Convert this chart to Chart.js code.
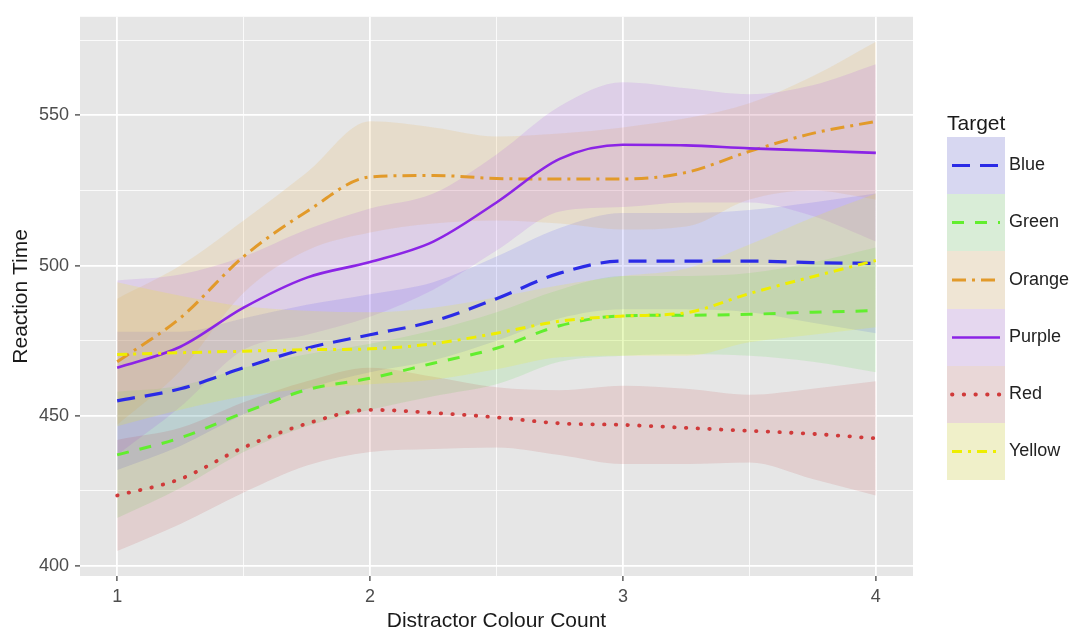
<!DOCTYPE html>
<html>
<head>
<meta charset="utf-8">
<script src="https://cdn.jsdelivr.net/npm/chart.js@4.4.1/dist/chart.umd.min.js"></script>
<style>
  html, body { margin: 0; padding: 0; background: #fff; }
  #wrap { width: 1072px; height: 634px; }
</style>
</head>
<body>
<div id="wrap"><canvas id="chart" width="1072" height="634"></canvas></div>
<script>
const xValues = [1, 1.25, 1.5, 1.75, 2, 2.25, 2.5, 2.75, 3, 3.25, 3.5, 3.75, 4];
const targets = ['Blue', 'Green', 'Orange', 'Purple', 'Red', 'Yellow'];

const blueFit   = [455, 459, 466, 472.5, 477, 481.5, 489, 497.5, 501.5, 501.5, 501.5, 501, 500.7];
const blueUpper = [478, 478, 482.5, 487, 490.5, 494.5, 503, 512.5, 517.5, 517.5, 518.5, 521, 524];
const blueLower = [432, 440, 450.5, 459, 464.5, 468.5, 475, 482.5, 485.5, 485.5, 484.5, 481, 477.5];

const greenFit   = [437, 442.7, 451, 458.7, 462.5, 467.5, 472.5, 480, 483.3, 483.5, 483.8, 484.5, 485];
const greenUpper = [458, 460, 466, 470.5, 474, 478.5, 484.5, 492, 496.5, 496.5, 497.5, 501, 506];
const greenLower = [416, 426, 438, 446.5, 452, 456.5, 460.5, 468, 470, 470.5, 470, 468, 464.5];

const orangeFit   = [468, 482.6, 503, 518, 529.5, 530, 529, 528.8, 528.8, 531, 538, 544, 548];
const orangeUpper = [489, 500, 515, 531, 548, 546, 543, 544, 546, 549, 554, 563, 574.5];
const orangeLower = [447, 465, 491, 505, 511, 514, 515, 514, 512, 513, 522, 525, 522];

const purpleFit   = [466, 473, 486, 496, 501.2, 508, 521, 535.5, 540.2, 540, 539, 538.3, 537.5];
const purpleUpper = [495, 497, 503, 512, 519, 524, 537, 553, 561, 559, 557, 560, 567];
const purpleLower = [437, 453, 472, 477, 483, 492, 505, 518, 519.5, 521, 521, 516.5, 508];

const redFit   = [423.5, 429, 439.5, 447.4, 452, 451, 449.5, 447.5, 447, 446, 445, 444, 442.5];
const redUpper = [442, 446, 454.5, 461.5, 466, 463, 459.5, 458.5, 460, 459, 457, 459, 461.5];
const redLower = [405, 414, 424.5, 433.5, 438, 439, 439.5, 437, 434, 434, 434.5, 429, 423.5];

const yellowFit   = [470.4, 471, 471.5, 472, 472.3, 474, 477.5, 481.5, 483.2, 484.3, 490.7, 496.3, 501.7];
const yellowUpper = [494.5, 490, 486.5, 485, 484.5, 486, 489.5, 493.5, 496.5, 499, 507, 516, 524];
const yellowLower = [446.5, 452, 456.5, 459, 460.5, 462, 465.5, 469.5, 470, 470, 474.5, 477, 479.5];

const xMajorTicks = [1, 2, 3, 4];
const xMinorTicks = [1.5, 2.5, 3.5];
const yMajorTicks = [400, 450, 500, 550];
const yMinorTicks = [425, 475, 525, 575];

const seriesData = {
  Blue:   { fit: blueFit,   upper: blueUpper,   lower: blueLower },
  Green:  { fit: greenFit,  upper: greenUpper,  lower: greenLower },
  Orange: { fit: orangeFit, upper: orangeUpper, lower: orangeLower },
  Purple: { fit: purpleFit, upper: purpleUpper, lower: purpleLower },
  Red:    { fit: redFit,    upper: redUpper,    lower: redLower },
  Yellow: { fit: yellowFit, upper: yellowUpper, lower: yellowLower }
};

// look of each group (line + ribbon)
const styles = {
  Blue:   { line: '#2B2BE6', band: 'rgba(40,40,255,0.12)',   dash: [18, 10],       width: 3.2, cap: 'butt' },
  Green:  { line: '#62EE2E', band: 'rgba(40,220,20,0.11)',   dash: [12, 11],       width: 3,   cap: 'butt' },
  Orange: { line: '#E29A2A', band: 'rgba(235,160,40,0.14)',  dash: [14, 6, 3, 6],  width: 3,   cap: 'butt' },
  Purple: { line: '#8B24E6', band: 'rgba(160,40,240,0.12)',  dash: [],             width: 2.6, cap: 'butt' },
  Red:    { line: '#D03A3A', band: 'rgba(190,40,40,0.12)',   dash: [0.5, 11.2],    width: 3.8, cap: 'round' },
  Yellow: { line: '#EEEE00', band: 'rgba(240,240,0,0.16)',   dash: [10, 6, 3, 6],  width: 3,   cap: 'butt' }
};

const FONT = '"Liberation Sans", Arial, sans-serif';
Chart.defaults.font.family = FONT;

const toPoints = arr => arr.map((y, i) => ({ x: xValues[i], y: y }));

const datasets = [];
targets.forEach((name, i) => {
  const st = styles[name];
  datasets.push({
    label: name,
    data: toPoints(seriesData[name].fit),
    borderColor: st.line,
    borderWidth: st.width,
    borderDash: st.dash,
    borderCapStyle: st.cap,
    pointRadius: 0,
    fill: false,
    order: 5 - i
  });
});
targets.forEach((name, i) => {
  const st = styles[name];
  datasets.push({
    label: name + ' upper',
    data: toPoints(seriesData[name].upper),
    borderColor: 'rgba(0,0,0,0)',
    borderWidth: 0,
    pointRadius: 0,
    backgroundColor: st.band,
    fill: '+1',
    order: 20 + (5 - i)
  });
  datasets.push({
    label: name + ' lower',
    data: toPoints(seriesData[name].lower),
    borderColor: 'rgba(0,0,0,0)',
    borderWidth: 0,
    pointRadius: 0,
    fill: false,
    order: 20 + (5 - i)
  });
});

const isMajor = (v, majors) => majors.indexOf(v) !== -1;

// grey panel behind the grid
const panelPlugin = {
  id: 'panel',
  beforeDraw(chart) {
    const { ctx, chartArea: a } = chart;
    ctx.save();
    ctx.fillStyle = '#fff';
    ctx.fillRect(0, 0, chart.width, chart.height);
    ctx.fillStyle = '#E6E6E6';
    ctx.fillRect(a.left, a.top, a.right - a.left, a.bottom - a.top);
    ctx.restore();
  }
};

// ggplot style legend with ribbon keys
const legendPlugin = {
  id: 'ggLegend',
  afterDraw(chart) {
    const ctx = chart.ctx;
    const keyX = 947, keyW = 58, keyTop = 137, keyH = 57.2;
    ctx.save();
    ctx.font = '21px ' + FONT;
    ctx.fillStyle = '#1a1a1a';
    ctx.textBaseline = 'alphabetic';
    ctx.textAlign = 'left';
    ctx.fillText('Target', keyX, 130);
    targets.forEach((name, i) => {
      const st = styles[name];
      const top = Math.round(keyTop + i * keyH);
      const bottom = Math.round(keyTop + (i + 1) * keyH);
      const mid = (top + bottom) / 2;
      ctx.fillStyle = '#F0F0F0';
      ctx.fillRect(keyX, top, keyW, bottom - top);
      ctx.fillStyle = st.band;
      ctx.fillRect(keyX, top, keyW, bottom - top);
      ctx.beginPath();
      ctx.setLineDash(st.dash);
      ctx.lineCap = st.cap;
      ctx.lineWidth = st.width;
      ctx.strokeStyle = st.line;
      ctx.moveTo(keyX + 5, mid);
      ctx.lineTo(keyX + keyW - 5, mid);
      ctx.stroke();
      ctx.setLineDash([]);
      ctx.font = '18px ' + FONT;
      ctx.fillStyle = '#222';
      ctx.textBaseline = 'middle';
      ctx.fillText(name, 1009, mid);
    });
    ctx.restore();
  }
};

new Chart(document.getElementById('chart'), {
  type: 'line',
  data: { datasets: datasets },
  plugins: [panelPlugin, legendPlugin],
  options: {
    responsive: false,
    devicePixelRatio: 1,
    animation: false,
    events: [],
    layout: { padding: { left: 4, top: 13, right: 159, bottom: 0 } },
    elements: { line: { cubicInterpolationMode: 'monotone' } },
    plugins: {
      legend: { display: false },
      tooltip: { enabled: false }
    },
    scales: {
      x: {
        type: 'linear',
        min: 0.853,
        max: 4.147,
        afterBuildTicks: s => { s.ticks = xMajorTicks.concat(xMinorTicks).sort().map(v => ({ value: v })); },
        afterFit: s => { s.height = 58; },
        border: { display: false },
        grid: {
          color: '#ffffff',
          lineWidth: c => isMajor(c.tick.value, xMajorTicks) ? 1.8 : 0.8,
          tickLength: 5,
          tickWidth: 1.2,
          tickColor: c => isMajor(c.tick.value, xMajorTicks) ? '#333333' : 'rgba(0,0,0,0)'
        },
        ticks: {
          autoSkip: false,
          maxRotation: 0,
          padding: 5,
          color: '#4d4d4d',
          font: { size: 18 },
          callback: v => isMajor(v, xMajorTicks) ? String(v) : ''
        },
        title: {
          display: true,
          text: 'Distractor Colour Count',
          color: '#1a1a1a',
          font: { size: 21 },
          padding: { top: 0, bottom: 0 }
        }
      },
      y: {
        type: 'linear',
        min: 396.7,
        max: 582.8,
        afterBuildTicks: s => { s.ticks = yMajorTicks.concat(yMinorTicks).sort().map(v => ({ value: v })); },
        afterFit: s => { s.width = 76; },
        border: { display: false },
        grid: {
          color: '#ffffff',
          lineWidth: c => isMajor(c.tick.value, yMajorTicks) ? 1.8 : 0.8,
          tickLength: 5,
          tickWidth: 1.2,
          tickColor: c => isMajor(c.tick.value, yMajorTicks) ? '#333333' : 'rgba(0,0,0,0)'
        },
        ticks: {
          autoSkip: false,
          padding: 6,
          color: '#4d4d4d',
          font: { size: 18 },
          callback: v => isMajor(v, yMajorTicks) ? String(v) : ''
        },
        title: {
          display: true,
          text: 'Reaction Time',
          color: '#1a1a1a',
          font: { size: 21 },
          padding: { top: 5, bottom: 0 }
        }
      }
    }
  }
});
</script>
</body>
</html>
